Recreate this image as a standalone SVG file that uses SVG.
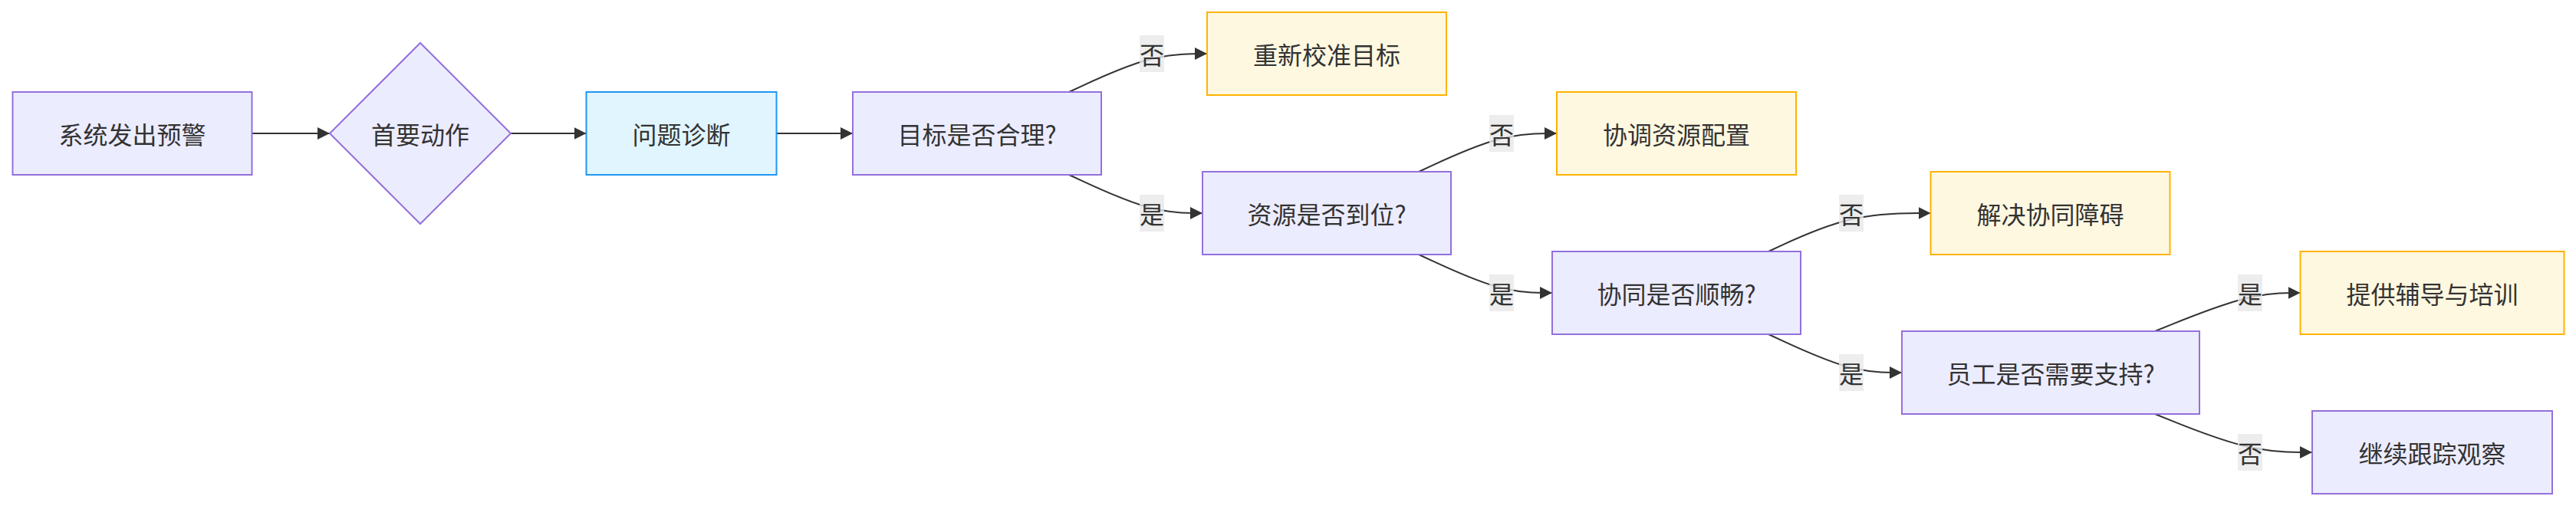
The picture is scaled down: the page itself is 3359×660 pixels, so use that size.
<svg xmlns="http://www.w3.org/2000/svg" width="3359" height="660" viewBox="0 0 3359 660">
<style>
.node rect,.node polygon{stroke-width:2}
.def rect,.def polygon{fill:#ECECFF;stroke:#9370DB}
.blue rect{fill:#E1F5FE;stroke:#2196F3}
.warn rect{fill:#FFF8E1;stroke:#FFB300}
text{font-family:"Noto Sans CJK SC","Noto Sans",sans-serif;font-size:32px;fill:#333;text-anchor:middle;dominant-baseline:central}
.edge{fill:none;stroke:#333;stroke-width:2;marker-end:url(#arr)}
.lbl rect{fill:#e8e8e8;fill-opacity:0.8}
</style>
<defs>
<marker id="arr" viewBox="0 0 10 10" refX="10" refY="5" markerUnits="userSpaceOnUse" markerWidth="16" markerHeight="16" orient="auto"><path d="M0,0 L10,5 L0,10 z" fill="#333"/></marker>
</defs>
<rect width="3359" height="660" fill="#fff"/>
<g id="connectors">
<path class="edge" d="M329,174 L430,174"/>
<path class="edge" d="M666,174 L764.5,174"/>
<path class="edge" d="M1012.5,174 L1112,174"/>
<path class="edge" d="M1394,120 L1412,111.67 C1430,103.33 1466,86.67 1496,78.33 C1526,70 1550,70 1562,70 L1574,70"/>
<path class="edge" d="M1394,228 L1412,236.33 C1430,244.67 1466,261.33 1495,269.67 C1524,278 1546,278 1557,278 L1568,278"/>
<path class="edge" d="M1850,224 L1868,215.67 C1886,207.33 1922,190.67 1952,182.33 C1982,174 2006,174 2018,174 L2030,174"/>
<path class="edge" d="M1850,332 L1868,340.33 C1886,348.67 1922,365.33 1951,373.67 C1980,382 2002,382 2013,382 L2024,382"/>
<path class="edge" d="M2306,328 L2324,319.67 C2342,311.33 2378,294.67 2413.25,286.33 C2448.5,278 2483,278 2500.25,278 L2517.5,278"/>
<path class="edge" d="M2306,436 L2324,444.33 C2342,452.67 2378,469.33 2407,477.67 C2436,486 2458,486 2469,486 L2480,486"/>
<path class="edge" d="M2810,432 L2830.67,423.67 C2851.33,415.33 2892.67,398.67 2924.25,390.33 C2955.83,382 2977.67,382 2988.58,382 L2999.5,382"/>
<path class="edge" d="M2810,540 L2830.67,548.33 C2851.33,556.67 2892.67,573.33 2926.83,581.67 C2961,590 2988,590 3001.5,590 L3015,590"/>
</g>
<g id="edge-labels">
<g class="lbl"><rect x="1486" y="46" width="32" height="48"/><text x="1502" y="70">否</text></g>
<g class="lbl"><rect x="1486" y="254" width="32" height="48"/><text x="1502" y="278">是</text></g>
<g class="lbl"><rect x="1942" y="150" width="32" height="48"/><text x="1958" y="174">否</text></g>
<g class="lbl"><rect x="1942" y="358" width="32" height="48"/><text x="1958" y="382">是</text></g>
<g class="lbl"><rect x="2398" y="254" width="32" height="48"/><text x="2414" y="278">否</text></g>
<g class="lbl"><rect x="2398" y="462" width="32" height="48"/><text x="2414" y="486">是</text></g>
<g class="lbl"><rect x="2918" y="358" width="32" height="48"/><text x="2934" y="382">是</text></g>
<g class="lbl"><rect x="2918" y="566" width="32" height="48"/><text x="2934" y="590">否</text></g>
</g>
<g id="n1" class="node def"><rect x="16.5" y="120" width="312" height="108"/><text x="172.5" y="174">系统发出预警</text></g>
<g id="n2" class="node def"><polygon points="548,56 666,174 548,292 430,174"/><text x="548" y="174">首要动作</text></g>
<g id="n3" class="node blue"><rect x="764.5" y="120" width="248" height="108"/><text x="888.5" y="174">问题诊断</text></g>
<g id="n4" class="node def"><rect x="1112" y="120" width="324" height="108"/><text x="1274" y="174">目标是否合理?</text></g>
<g id="n5" class="node warn"><rect x="1574" y="16" width="312" height="108"/><text x="1730" y="70">重新校准目标</text></g>
<g id="n6" class="node def"><rect x="1568" y="224" width="324" height="108"/><text x="1730" y="278">资源是否到位?</text></g>
<g id="n7" class="node warn"><rect x="2030" y="120" width="312" height="108"/><text x="2186" y="174">协调资源配置</text></g>
<g id="n8" class="node def"><rect x="2024" y="328" width="324" height="108"/><text x="2186" y="382">协同是否顺畅?</text></g>
<g id="n9" class="node warn"><rect x="2517.5" y="224" width="312" height="108"/><text x="2673.5" y="278">解决协同障碍</text></g>
<g id="n10" class="node def"><rect x="2480" y="432" width="388" height="108"/><text x="2674" y="486">员工是否需要支持?</text></g>
<g id="n11" class="node warn"><rect x="2999.5" y="328" width="344" height="108"/><text x="3171.5" y="382">提供辅导与培训</text></g>
<g id="n12" class="node def"><rect x="3015" y="536" width="313" height="108"/><text x="3171.5" y="590">继续跟踪观察</text></g>
</svg>
